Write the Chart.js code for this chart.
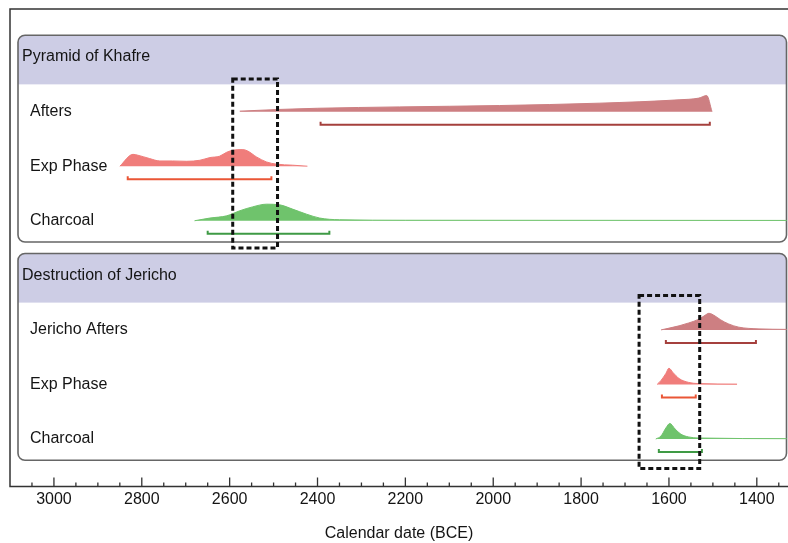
<!DOCTYPE html>
<html>
<head>
<meta charset="utf-8">
<script src="https://cdn.jsdelivr.net/npm/chart.js@4.4.1/dist/chart.umd.min.js"></script>
<style>
  html, body { margin: 0; padding: 0; background: #fff; }
</style>
</head>
<body>
<canvas id="chart" width="788" height="543"></canvas>
<script>
// x axis tick labels (years BCE)
var tickYears = [3000, 2800, 2600, 2400, 2200, 2000, 1800, 1600, 1400];

// panel titles and row labels
var groups = ['Pyramid of Khafre', 'Destruction of Jericho'];
var rowLabels = [
  ['Afters', 'Exp Phase', 'Charcoal'],
  ['Jericho Afters', 'Exp Phase', 'Charcoal']
];

// probability curves (year BCE, relative probability)
var khafreAftersYears = [2577, 2486, 2400, 2214, 1986, 1759, 1577, 1532, 1514, 1502];
var khafreAftersProb  = [0.03, 0.13, 0.2, 0.28, 0.36, 0.5, 0.7, 0.8, 0.95, 0];

var khafreExpYears = [2850, 2820, 2809, 2782, 2759, 2730, 2698, 2668, 2645, 2623, 2607, 2593, 2570, 2559, 2539, 2516, 2493, 2457, 2423];
var khafreExpProb  = [0, 0.7, 0.65, 0.45, 0.31, 0.31, 0.29, 0.35, 0.51, 0.59, 0.82, 0.94, 0.98, 0.9, 0.55, 0.25, 0.12, 0.06, 0];

var khafreCharYears = [2680, 2645, 2607, 2577, 2548, 2516, 2486, 2457, 2425, 2395, 2350, 2200, 1332];
var khafreCharProb  = [0, 0.16, 0.29, 0.59, 0.82, 0.98, 0.94, 0.69, 0.39, 0.16, 0.06, 0.03, 0.02];

var jerichoAftersYears = [1618, 1577, 1555, 1532, 1518, 1509, 1495, 1482, 1464, 1441, 1395, 1332];
var jerichoAftersProb  = [0, 0.24, 0.41, 0.63, 0.86, 0.98, 0.82, 0.59, 0.35, 0.16, 0.06, 0.03];

var jerichoExpYears = [1627, 1618, 1607, 1600, 1591, 1577, 1555, 1532, 1445];
var jerichoExpProb  = [0, 0.24, 0.65, 0.96, 0.71, 0.35, 0.12, 0.05, 0.02];

var jerichoCharYears = [1630, 1618, 1607, 1598, 1586, 1573, 1555, 1532, 1332];
var jerichoCharProb  = [0, 0.18, 0.65, 0.92, 0.59, 0.29, 0.12, 0.06, 0.02];

// 95% ranges [from, to]
var khafreAftersRange = [2393, 1507];
var khafreExpRange = [2832, 2505];
var khafreCharRange = [2650, 2373];
var jerichoAftersRange = [1607, 1402];
var jerichoExpRange = [1616, 1539];
var jerichoCharRange = [1623, 1525];

// highlighted windows [from, to]
var khafreWindow = [2593, 2491];
var jerichoWindow = [1668, 1530];

var FONT = "'Liberation Sans', Arial, sans-serif";
var DENS_H = 0.31;

var styles = {
  afters: { fill: '#cd7f82', bracket: '#a5403d' },
  exp: { fill: '#f07d7b', bracket: '#ea5636' },
  charcoal: { fill: '#6fc36c', bracket: '#3f9a45' }
};

var series = [
  { row: 1, years: khafreAftersYears, prob: khafreAftersProb, range: khafreAftersRange, style: styles.afters },
  { row: 2, years: khafreExpYears, prob: khafreExpProb, range: khafreExpRange, style: styles.exp },
  { row: 3, years: khafreCharYears, prob: khafreCharProb, range: khafreCharRange, style: styles.charcoal },
  { row: 5, years: jerichoAftersYears, prob: jerichoAftersProb, range: jerichoAftersRange, style: styles.afters },
  { row: 6, years: jerichoExpYears, prob: jerichoExpProb, range: jerichoExpRange, style: styles.exp },
  { row: 7, years: jerichoCharYears, prob: jerichoCharProb, range: jerichoCharRange, style: styles.charcoal }
];

var windows = [
  { range: khafreWindow, top: 0.4, bottom: 3.5 },
  { range: jerichoWindow, top: 4.37, bottom: 7.54 }
];

var datasets = [];
series.forEach(function(s) {
  var pts = [];
  for (var i = 0; i < s.years.length; i++) {
    pts.push({ x: s.years[i], y: s.row - s.prob[i] * DENS_H });
  }
  datasets.push({
    data: pts,
    fill: { value: s.row },
    backgroundColor: s.style.fill,
    borderColor: s.style.fill,
    borderWidth: 1,
    pointRadius: 0,
    cubicInterpolationMode: 'monotone'
  });
  datasets.push({
    data: [
      { x: s.range[0], y: s.row + 0.185 },
      { x: s.range[0], y: s.row + 0.24 },
      { x: s.range[1], y: s.row + 0.24 },
      { x: s.range[1], y: s.row + 0.185 }
    ],
    fill: false,
    borderColor: s.style.bracket,
    borderWidth: 2,
    pointRadius: 0,
    tension: 0
  });
});

function roundRect(ctx, x, y, w, h, r) {
  ctx.beginPath();
  ctx.moveTo(x + r, y);
  ctx.lineTo(x + w - r, y);
  ctx.arcTo(x + w, y, x + w, y + r, r);
  ctx.lineTo(x + w, y + h - r);
  ctx.arcTo(x + w, y + h, x + w - r, y + h, r);
  ctx.lineTo(x + r, y + h);
  ctx.arcTo(x, y + h, x, y + h - r, r);
  ctx.lineTo(x, y + r);
  ctx.arcTo(x, y, x + r, y, r);
  ctx.closePath();
}

var panelsPlugin = {
  id: 'panels',
  beforeDatasetsDraw: function(chart) {
    var ctx = chart.ctx;
    var ys = chart.scales.y;
    var area = chart.chartArea;
    var left = area.left + 8;
    var right = area.right - 1.5;

    ctx.save();
    groups.forEach(function(name, g) {
      var hr = g * 4;
      var top = ys.getPixelForValue(hr - 0.4);
      var hb = ys.getPixelForValue(hr + 0.5);
      var bottom = ys.getPixelForValue(hr + 3.39);

      roundRect(ctx, left, top, right - left, bottom - top, 7);
      ctx.fillStyle = '#ffffff';
      ctx.fill();

      ctx.save();
      roundRect(ctx, left, top, right - left, bottom - top, 7);
      ctx.clip();
      ctx.fillStyle = '#cdcde5';
      ctx.fillRect(left, top, right - left, hb - top);
      ctx.restore();

      roundRect(ctx, left, top, right - left, bottom - top, 7);
      ctx.strokeStyle = '#666';
      ctx.lineWidth = 1.6;
      ctx.stroke();

      ctx.fillStyle = '#141414';
      ctx.font = '16px ' + FONT;
      ctx.textBaseline = 'middle';
      ctx.textAlign = 'left';
      ctx.fillText(name, left + 4, ys.getPixelForValue(hr));

      rowLabels[g].forEach(function(lab, i) {
        ctx.fillText(lab, left + 12, ys.getPixelForValue(hr + 1 + i));
      });
    });
    ctx.restore();
  },
  afterDatasetsDraw: function(chart) {
    var ctx = chart.ctx;
    var xs = chart.scales.x;
    var ys = chart.scales.y;
    var area = chart.chartArea;

    ctx.save();
    // dashed windows
    ctx.strokeStyle = '#111';
    ctx.lineWidth = 3;
    ctx.setLineDash([5, 3]);
    windows.forEach(function(w) {
      var x1 = xs.getPixelForValue(w.range[0]);
      var x2 = xs.getPixelForValue(w.range[1]);
      var y1 = ys.getPixelForValue(w.top);
      var y2 = ys.getPixelForValue(w.bottom);
      ctx.strokeRect(x1, y1, x2 - x1, y2 - y1);
    });
    ctx.setLineDash([]);

    // frame
    ctx.strokeStyle = '#333';
    ctx.lineWidth = 1.5;
    ctx.beginPath();
    ctx.moveTo(area.right, area.top);
    ctx.lineTo(area.left, area.top);
    ctx.lineTo(area.left, area.bottom);
    ctx.lineTo(area.right, area.bottom);
    ctx.stroke();

    // tick marks pointing up, major every 200, minor every 50
    ctx.lineWidth = 1.3;
    ctx.beginPath();
    for (var v = 1350; v <= 3050; v += 50) {
      var x = xs.getPixelForValue(v);
      var len = (v % 200 === 0) ? 9 : 4;
      ctx.moveTo(x, area.bottom);
      ctx.lineTo(x, area.bottom - len);
    }
    ctx.stroke();
    ctx.restore();
  }
};

var chart = new Chart(document.getElementById('chart').getContext('2d'), {
  type: 'line',
  data: { datasets: datasets },
  options: {
    responsive: false,
    animation: false,
    layout: { padding: { top: 9, left: 10, right: 0, bottom: 0 } },
    plugins: {
      legend: { display: false },
      tooltip: { enabled: false }
    },
    scales: {
      x: {
        type: 'linear',
        reverse: true,
        min: 1329,
        max: 3100,
        afterBuildTicks: function(scale) {
          scale.ticks = tickYears.map(function(v) { return { value: v }; });
        },
        ticks: {
          autoSkip: false,
          maxRotation: 0,
          padding: 3,
          color: '#141414',
          font: { family: FONT, size: 16 },
          callback: function(v) { return String(v); }
        },
        grid: { display: false, drawTicks: false },
        border: { display: false },
        title: {
          display: true,
          text: 'Calendar date (BCE)',
          color: '#141414',
          font: { family: FONT, size: 16 },
          padding: { top: 12, bottom: 0 }
        }
      },
      y: {
        type: 'linear',
        display: false,
        reverse: true,
        min: -0.881,
        max: 7.872
      }
    }
  },
  plugins: [panelsPlugin]
});
</script>
</body>
</html>
